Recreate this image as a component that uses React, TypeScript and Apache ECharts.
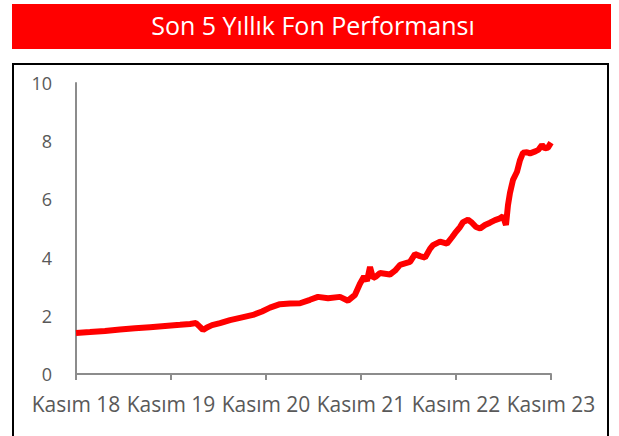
import React, { useEffect, useRef } from "react";
import * as echarts from "echarts";

const TITLE = "Son 5 Yıllık Fon Performansı";
const xTickLabels = ["Kasım 18", "Kasım 19", "Kasım 20", "Kasım 21", "Kasım 22", "Kasım 23"];
// time in years since Kasım 18
const years = [
  0.0, 0.147, 0.305, 0.463, 0.621, 0.779, 0.937, 1.095, 1.2, 1.263, 1.305, 1.337, 1.379, 1.432,
  1.516, 1.621, 1.726, 1.863, 1.958, 2.042, 2.147, 2.253, 2.358, 2.463, 2.547, 2.653, 2.779,
  2.863, 2.937, 2.989, 3.032, 3.063, 3.095, 3.126, 3.158, 3.2, 3.305, 3.358, 3.411, 3.463,
  3.516, 3.568, 3.621, 3.674, 3.726, 3.758, 3.832, 3.905, 3.958, 3.989, 4.042, 4.074, 4.126,
  4.168, 4.211, 4.253, 4.305, 4.358, 4.411, 4.463, 4.495, 4.526, 4.547, 4.568, 4.6, 4.642,
  4.674, 4.705, 4.747, 4.779, 4.835, 4.866, 4.905, 4.937, 4.968, 5.0,
];
const values = [
  1.41, 1.44, 1.48, 1.53, 1.57, 1.61, 1.65, 1.69, 1.72, 1.75, 1.62, 1.51, 1.6, 1.68,
  1.75, 1.85, 1.93, 2.03, 2.15, 2.28, 2.4, 2.42, 2.43, 2.55, 2.65, 2.6, 2.65,
  2.52, 2.72, 3.1, 3.35, 3.2, 3.68, 3.3, 3.35, 3.47, 3.42, 3.55, 3.75, 3.8,
  3.85, 4.12, 4.05, 4.0, 4.3, 4.43, 4.55, 4.48, 4.7, 4.84, 5.05, 5.22, 5.3,
  5.2, 5.05, 5.0, 5.12, 5.2, 5.29, 5.35, 5.42, 5.12, 5.8, 6.22, 6.67, 6.95,
  7.35, 7.6, 7.62, 7.58, 7.65, 7.7, 7.87, 7.75, 7.78, 7.95,
];

export default function App() {
  const ref = useRef<HTMLDivElement>(null);
  useEffect(() => {
    if (!ref.current) return;
    const chart = echarts.init(ref.current, null, { renderer: "svg" });
    const fontFamily = "'Open Sans', sans-serif";
    chart.setOption({
      animation: false,
      backgroundColor: "#ffffff",
      grid: { left: 76, right: 68, top: 83, bottom: 62, containLabel: false },
      graphic: [
        {
          type: "rect",
          shape: { x: 12, y: 4, width: 599, height: 45 },
          style: { fill: "#ff0000" },
          silent: true,
        },
        {
          type: "text",
          x: 313,
          y: 25,
          style: {
            text: TITLE,
            fill: "#ffffff",
            font: `25px ${fontFamily}`,
            textAlign: "center",
            textVerticalAlign: "middle",
          },
          silent: true,
        },
        {
          type: "rect",
          shape: { x: 13, y: 64, width: 595, height: 380 },
          style: { fill: "none", stroke: "#000000", lineWidth: 2 },
          silent: true,
        },
      ],
      xAxis: {
        type: "value",
        min: 0,
        max: 5,
        interval: 1,
        axisLine: { show: true, lineStyle: { color: "#8c8c8c", width: 2 } },
        axisTick: { show: true, length: 6, lineStyle: { color: "#8c8c8c", width: 2 } },
        splitLine: { show: false },
        axisLabel: {
          color: "#595959",
          fontSize: 21,
          fontFamily,
          margin: 19,
          formatter: (v: number) => xTickLabels[Math.round(v)] ?? "",
        },
      },
      yAxis: {
        type: "value",
        min: 0,
        max: 10,
        interval: 2,
        axisLine: { show: true, lineStyle: { color: "#8c8c8c", width: 2 } },
        axisTick: { show: false },
        splitLine: { show: false },
        axisLabel: { color: "#595959", fontSize: 18, fontFamily, margin: 24 },
      },
      series: [
        {
          type: "line",
          data: years.map((y, i) => [y, values[i]]),
          showSymbol: false,
          lineStyle: { color: "#ff0000", width: 6 },
          itemStyle: { color: "#ff0000" },
        },
      ],
    });
    return () => chart.dispose();
  }, []);
  return (
    <div
      ref={ref}
      style={{ position: "fixed", left: 0, top: 0, width: 619, height: 436 }}
    />
  );
}
